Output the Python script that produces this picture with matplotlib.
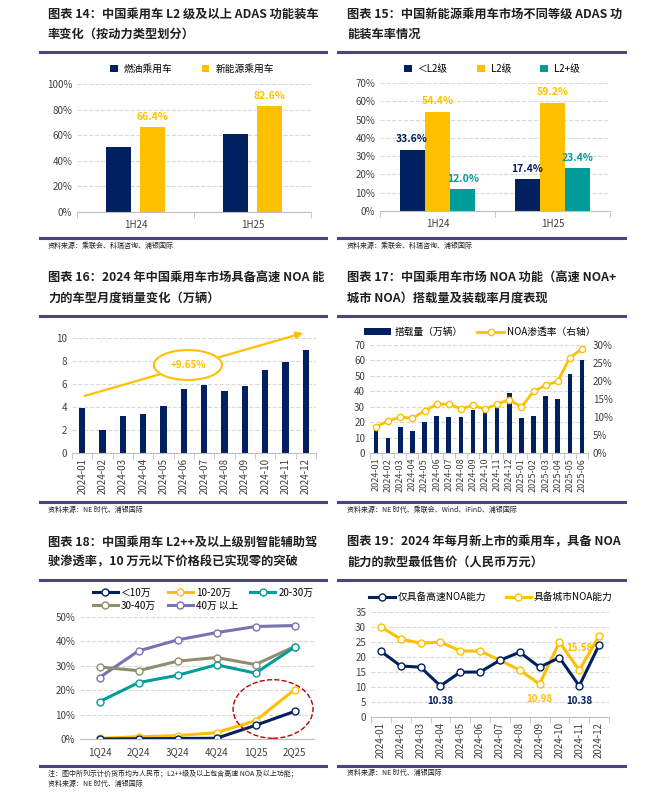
import numpy as np
import matplotlib
matplotlib.use('Agg')
import matplotlib.pyplot as plt
from matplotlib.patches import Ellipse
from matplotlib.lines import Line2D

plt.rcParams['font.family'] = ['Noto Sans CJK SC', 'DejaVu Sans']
plt.rcParams['axes.unicode_minus'] = False

# 颜色
NAVY = '#002060'
YELLOW = '#FFC000'
TEAL = '#009C9A'
OLIVE = '#8F8D6E'
PURPLE = '#7672B4'
GRID = '#D9D9D9'
LINE = '#4E4188'
TXT = '#404040'

# ---- 图表 14 数据 ----
half_years = ['1H24', '1H25']
fuel_rate = [50.5, 61.0]
nev_rate = [66.4, 82.6]

# ---- 图表 15 数据 ----
below_l2 = [33.6, 17.4]
l2_rate = [54.4, 59.2]
l2plus_rate = [12.0, 23.4]

# ---- 图表 16 数据 ----
months_2024 = ['2024-%02d' % m for m in range(1, 13)]
noa_sales = [3.95, 2.0, 3.25, 3.4, 4.1, 5.55, 5.9, 5.35, 5.85, 7.25, 7.9, 9.0]

# ---- 图表 17 数据 ----
months_18 = months_2024 + ['2025-%02d' % m for m in range(1, 7)]
noa_volume = [14.7, 9.8, 16.9, 14.5, 20.0, 23.8, 23.4, 23.3, 27.8, 26.3, 29.9, 39.0,
              22.8, 23.8, 36.8, 35.3, 51.5, 60.2]
noa_rate = [7.3, 8.9, 10.0, 9.6, 11.7, 13.5, 13.6, 12.3, 13.2, 12.2, 13.6, 14.8,
            12.8, 17.1, 18.8, 19.9, 26.5, 28.9]

# ---- 图表 18 数据 ----
quarters = ['1Q24', '2Q24', '3Q24', '4Q24', '1Q25', '2Q25']
p_lt10 = [0.0, 0.1, 0.2, 0.3, 5.6, 11.3]
p_10_20 = [0.3, 0.9, 1.4, 2.6, 7.5, 20.2]
p_20_30 = [15.3, 23.1, 26.1, 30.4, 27.0, 37.6]
p_30_40 = [29.5, 28.0, 31.9, 33.4, 30.5, 37.9]
p_40up = [25.2, 36.1, 40.6, 43.6, 46.1, 46.5]

# ---- 图表 19 数据 ----
price_highway = [21.9, 17.0, 16.6, 10.38, 14.95, 15.0, 18.9, 21.6, 16.6, 19.8, 10.38, 24.0]
price_city = [30.0, 26.0, 24.6, 25.0, 22.0, 22.0, 18.9, 15.6, 10.98, 25.0, 15.58, 27.0]

W, H = 665, 793
fig = plt.figure(figsize=(W / 100, H / 100), dpi=100)


def fx(x):
    return x / W


def fy(y):
    return 1 - y / H


def make_ax(x0, y0, x1, y1):
    ax = fig.add_axes([fx(x0), fy(y1), (x1 - x0) / W, (y1 - y0) / H])
    for s in ['top', 'left', 'right']:
        ax.spines[s].set_visible(False)
    ax.spines['bottom'].set_color('#BFBFBF')
    ax.grid(axis='y', color=GRID, linestyle='--', linewidth=0.8)
    ax.set_axisbelow(True)
    ax.tick_params(axis='y', length=0, labelsize=7, labelcolor=TXT)
    ax.tick_params(axis='x', length=0, labelsize=7, labelcolor=TXT)
    return ax


def hline(x0, x1, y):
    fig.add_artist(Line2D([fx(x0), fx(x1)], [fy(y), fy(y)], color=LINE, lw=2.2))


def title(x, y, s):
    fig.text(fx(x), fy(y), s, fontsize=8.8, fontweight='bold', color='#1F1F1F',
             va='center', ha='left', linespacing=1.7)


def source(x, y, s):
    fig.text(fx(x), fy(y), s, fontsize=5, color='#1F1F1F', va='center', ha='left')


def cat_ticks(ax, n):
    ax.set_xticks(np.arange(n))
    ax.set_xticks(np.arange(n + 1) - 0.5, minor=True)
    ax.tick_params(axis='x', which='minor', length=4, color='#BFBFBF')
    ax.set_xlim(-0.5, n - 0.5)


def pct(ax):
    ax.yaxis.set_major_formatter(matplotlib.ticker.FuncFormatter(lambda v, p: '%d%%' % v))


# ================= 图表 14 =================
title(48, 24, '图表 14：中国乘用车 L2 级及以上 ADAS 功能装车\n率变化（按动力类型划分）')
hline(40, 326, 52)
ax1 = make_ax(77, 84, 311, 212)
x = np.arange(2)
bw = 0.22
ax1.bar(x - 0.145, fuel_rate, bw, color=NAVY, label='燃油乘用车')
ax1.bar(x + 0.145, nev_rate, bw, color=YELLOW, label='新能源乘用车')
for i, v in enumerate(nev_rate):
    ax1.text(x[i] + 0.145, v + 4, '%.1f%%' % v, ha='center', va='bottom', fontsize=7.5,
             color=YELLOW, fontweight='bold')
ax1.set_ylim(0, 100)
ax1.set_yticks(range(0, 101, 20))
pct(ax1)
cat_ticks(ax1, 2)
ax1.set_xticklabels(half_years)
ax1.tick_params(axis='x', pad=6)
ax1.legend(loc='center', bbox_to_anchor=(fx(192), fy(69)), bbox_transform=fig.transFigure,
           ncol=2, frameon=False, fontsize=7, handlelength=0.8, handleheight=0.8,
           columnspacing=3, handletextpad=0.6)
hline(40, 326, 238)
source(48, 246, '资料来源：乘联会、科瑞咨询、浦银国际')

# ================= 图表 15 =================
title(347, 24, '图表 15：中国新能源乘用车市场不同等级 ADAS 功\n能装车率情况')
hline(338, 625, 52)
ax2 = make_ax(380, 83, 610, 211)
bw = 0.22
series = [(below_l2, NAVY, '＜L2级'), (l2_rate, YELLOW, 'L2级'), (l2plus_rate, TEAL, 'L2+级')]
for k, (vals, c, lab) in enumerate(series):
    xs = x + (k - 1) * bw
    ax2.bar(xs, vals, bw, color=c, label=lab)
    for i, v in enumerate(vals):
        ax2.text(xs[i], v + 3, '%.1f%%' % v, ha='center', va='bottom', fontsize=7.5,
                 color=c, fontweight='bold')
ax2.set_ylim(0, 70)
ax2.set_yticks(range(0, 71, 10))
pct(ax2)
cat_ticks(ax2, 2)
ax2.set_xticklabels(half_years)
ax2.tick_params(axis='x', pad=6)
ax2.legend(loc='center', bbox_to_anchor=(fx(492), fy(69)), bbox_transform=fig.transFigure,
           ncol=3, frameon=False, fontsize=7, handlelength=0.8, handleheight=0.8,
           columnspacing=3, handletextpad=0.6)
hline(338, 625, 238)
source(347, 246, '资料来源：乘联会、科瑞咨询、浦银国际')

# ================= 图表 16 =================
title(48, 288, '图表 16：2024 年中国乘用车市场具备高速 NOA 能\n力的车型月度销量变化（万辆）')
hline(40, 326, 316)
ax3 = make_ax(72, 338, 316, 453)
ax3.bar(np.arange(12), noa_sales, 0.32, color=NAVY)
ax3.set_ylim(0, 10)
ax3.set_yticks(range(0, 11, 2))
cat_ticks(ax3, 12)
ax3.set_xticklabels(months_2024, rotation=90, fontsize=7)
ax3.annotate('', xy=(11.0, 10.5), xytext=(0.0, 4.9),
             arrowprops=dict(arrowstyle='-|>', color=YELLOW, lw=1.6, mutation_scale=10),
             annotation_clip=False, zorder=4)
ax3.add_patch(Ellipse((5.2, 7.65), 3.35, 2.6, facecolor='white', edgecolor=YELLOW,
                      lw=1.5, zorder=5, clip_on=False))
ax3.text(5.2, 7.65, '+9.65%', ha='center', va='center', fontsize=7, color=YELLOW,
         fontweight='bold', zorder=6)
hline(40, 326, 502)
source(48, 510, '资料来源：NE 时代、浦银国际')

# ================= 图表 17 =================
title(347, 288, '图表 17：中国乘用车市场 NOA 功能（高速 NOA+\n城市 NOA）搭载量及装载率月度表现')
hline(338, 625, 316)
ax4 = make_ax(370, 345, 588, 453)
xi = np.arange(18)
ax4.bar(xi, noa_volume, 0.38, color=NAVY, label='搭载量（万辆）')
ax4.set_ylim(0, 70)
ax4.set_yticks(range(0, 71, 10))
cat_ticks(ax4, 18)
ax4.set_xticklabels(months_18, rotation=90, fontsize=6.5)
ax4b = ax4.twinx()
for s in ['top', 'left', 'right', 'bottom']:
    ax4b.spines[s].set_visible(False)
ax4b.plot(xi, noa_rate, color=YELLOW, lw=2, marker='o', markersize=4.5,
          markerfacecolor='white', markeredgecolor=YELLOW, markeredgewidth=1,
          label='NOA渗透率（右轴）')
ax4b.set_ylim(0, 30)
ax4b.set_yticks(range(0, 31, 5))
pct(ax4b)
ax4b.tick_params(axis='y', length=0, labelsize=7, labelcolor=TXT)
h1, l1 = ax4.get_legend_handles_labels()
h2, l2 = ax4b.get_legend_handles_labels()
ax4.legend(h1 + h2, l1 + l2, loc='center', bbox_to_anchor=(fx(480), fy(332)),
           bbox_transform=fig.transFigure, ncol=2, frameon=False, fontsize=7,
           handlelength=2.8, handleheight=0.6, columnspacing=1.5, handletextpad=0.3)
hline(338, 625, 502)
source(347, 510, '资料来源：NE 时代、乘联会、Wind、iFinD、浦银国际')

# ================= 图表 18 =================
title(48, 552, '图表 18：中国乘用车 L2++及以上级别智能辅助驾\n驶渗透率，10 万元以下价格段已实现零的突破')
hline(40, 326, 580)
ax5 = make_ax(80, 617, 314, 739)
xq = np.arange(6)
lines5 = [(p_lt10, NAVY, '＜10万'), (p_10_20, YELLOW, '10-20万'), (p_20_30, TEAL, '20-30万'),
          (p_30_40, OLIVE, '30-40万'), (p_40up, PURPLE, '40万 以上')]
hd = {}
for vals, c, lab in lines5[::-1]:
    ln, = ax5.plot(xq, vals, color=c, lw=2.2, marker='o', markersize=5,
                   markerfacecolor='white', markeredgecolor=c, markeredgewidth=1, label=lab)
    hd[lab] = ln
ax5.set_ylim(0, 50)
ax5.set_yticks(range(0, 51, 10))
pct(ax5)
ax5.set_xlim(-0.5, 5.5)
ax5.set_xticks(xq)
ax5.set_xticklabels(quarters)
ax5.tick_params(axis='x', pad=6)
ax5.add_patch(Ellipse((4.45, 12.3), 2.05, 24, facecolor='none', edgecolor='#C00000',
                      lw=1, linestyle='--', zorder=5, clip_on=False))
order = ['＜10万', '30-40万', '10-20万', '40万 以上', '20-30万']
ax5.legend([hd[k] for k in order], order, loc='upper left',
           bbox_to_anchor=(fx(84), fy(579)), bbox_transform=fig.transFigure, ncol=3,
           frameon=False, fontsize=7, handlelength=2.6, columnspacing=1.2,
           handletextpad=0.3, labelspacing=0.3)
hline(40, 326, 766)
source(48, 773, '注：图中所列示计价货币均为人民币；L2++级及以上包含高速 NOA 及以上功能；')
source(48, 784, '资料来源：NE 时代、浦银国际')

# ================= 图表 19 =================
title(347, 552, '图表 19：2024 年每月新上市的乘用车，具备 NOA\n能力的款型最低售价（人民币万元）')
hline(338, 625, 580)
ax6 = make_ax(371, 612, 609, 717)
xm = np.arange(12)
ax6.plot(xm, price_highway, color=NAVY, lw=2.2, marker='o', markersize=5,
         markerfacecolor='white', markeredgecolor=NAVY, markeredgewidth=1,
         label='仅具备高速NOA能力', zorder=4)
ax6.plot(xm, price_city, color=YELLOW, lw=2.2, marker='o', markersize=5,
         markerfacecolor='white', markeredgecolor=YELLOW, markeredgewidth=1,
         label='具备城市NOA能力', zorder=3)
ax6.text(3, 5.4, '10.38', ha='center', va='center', fontsize=7, color=NAVY, fontweight='bold')
ax6.text(8, 6.1, '10.98', ha='center', va='center', fontsize=7, color=YELLOW, fontweight='bold')
ax6.text(10, 5.4, '10.38', ha='center', va='center', fontsize=7, color=NAVY, fontweight='bold')
ax6.text(10, 23.1, '15.58', ha='center', va='center', fontsize=7, color=YELLOW, fontweight='bold')
ax6.set_ylim(0, 35)
ax6.set_yticks(range(0, 36, 5))
cat_ticks(ax6, 12)
ax6.set_xticklabels(months_2024, rotation=90, fontsize=7)
ax6.legend(loc='center', bbox_to_anchor=(fx(491), fy(597)), bbox_transform=fig.transFigure,
           ncol=2, frameon=False, fontsize=7, handlelength=2.6, columnspacing=2,
           handletextpad=0.3)
hline(338, 625, 766)
source(347, 773, '资料来源：NE 时代、浦银国际')

fig.savefig('out.png', dpi=100, facecolor='white')
